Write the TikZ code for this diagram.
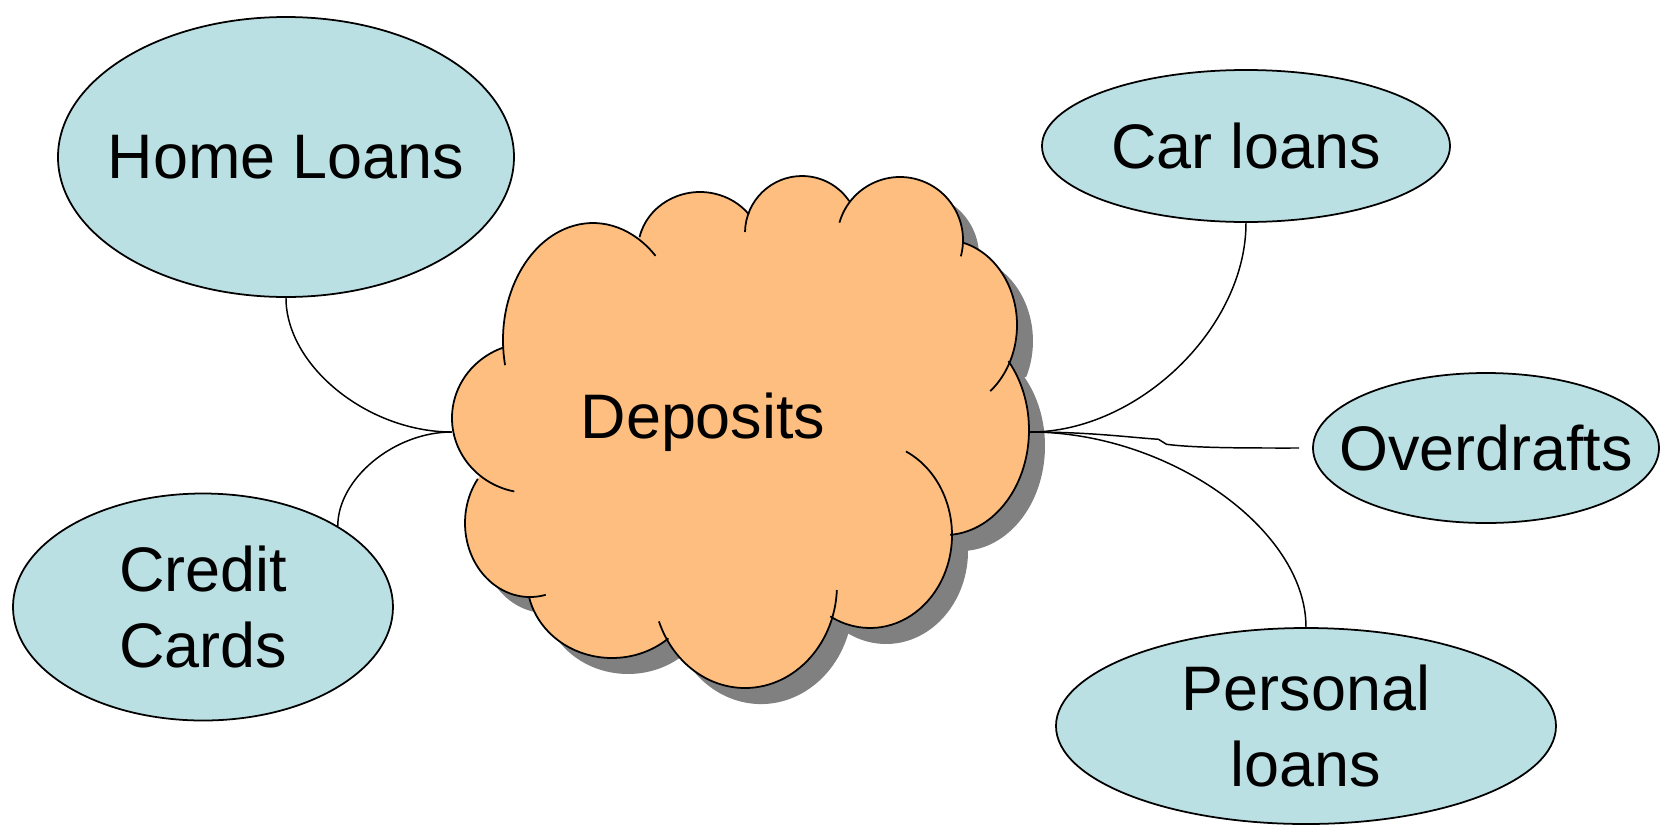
\documentclass[tikz,border=0pt]{standalone}
\usepackage{fontspec}
\setmainfont{Liberation Sans}
\usetikzlibrary{shapes.geometric,shadows,calc}

\definecolor{loanblue}{RGB}{187,224,227}
\definecolor{cloudorange}{RGB}{254,190,128}
\definecolor{shadowgray}{RGB}{128,128,128}

\begin{document}
\begin{tikzpicture}
    \tikzstyle{loan} = [ellipse,draw=black,fill=loanblue,line width=0.5pt,
    inner sep=0pt,align=center,font=\fontsize{17.9pt}{21.9pt}\selectfont];
    \tikzstyle{deptext} = [inner sep=0pt,xshift=-0.38cm,yshift=0.1cm,
    font=\fontsize{17.9pt}{21.9pt}\selectfont];
    \tikzstyle{cloudbody} = [fill=cloudorange,drop shadow={shadow xshift=0.16cm,
    shadow yshift=-0.16cm,fill=shadowgray,opacity=1}];
    \tikzstyle{puff} = [black,line width=0.5pt];
    \tikzstyle{link} = [black,line width=0.42pt];

    \useasboundingbox (-7.41,-3.93) rectangle (9.19,4.32);

    % cloud body, one elliptic arc per puff
    \fill[cloudbody] (-2.378,0.851) arc[start angle=183.4,end angle=60,x radius=0.9,y radius=1.17]
      -- (-1.015,1.948) arc[start angle=167.2,end angle=37.9,x radius=0.62,y radius=0.58]
      -- (0.069,2.170) arc[start angle=161.6,end angle=34,radius=0.57]
      -- (1.082,2.292) arc[start angle=143.8,end angle=-1.8,radius=0.63]
      -- (2.220,1.893) arc[start angle=75.5,end angle=-25,x radius=0.72,y radius=0.85]
      -- (2.674,0.709) arc[start angle=41,end angle=-86.5,x radius=0.84,y radius=1.05]
      -- (2.110,-1.009) arc[start angle=1.3,end angle=-119,x radius=0.82,y radius=0.93]
      -- (0.925,-1.811) arc[start angle=-15.8,end angle=-146.8,x radius=0.92,y radius=1.03]
      -- (-0.726,-2.063) arc[start angle=-48.4,end angle=-168,x radius=0.85,y radius=0.78]
      -- (-2.110,-1.650) arc[start angle=270,end angle=143.4,x radius=0.65,y radius=0.74]
      -- (-2.606,-0.439) arc[start angle=230.6,end angle=110,x radius=0.78,y radius=0.75]
      -- cycle;

    % puff outlines, some run on a little inside the cloud
    \draw[puff] (-1.48,0.92) ++(192.4:0.9 and 1.17) arc[start angle=192.4,end angle=46,x radius=0.9,y radius=1.17];
    \draw[puff] (-0.41,1.82) ++(167.2:0.62 and 0.58) arc[start angle=167.2,end angle=37.9,x radius=0.62,y radius=0.58];
    \draw[puff] (0.61,1.99) ++(179:0.57) arc[start angle=179,end angle=34,radius=0.57];
    \draw[puff] (1.59,1.92) ++(164:0.63) arc[start angle=164,end angle=-15,radius=0.63];
    \draw[puff] (2.04,1.07) ++(75.5:0.72 and 0.85) arc[start angle=75.5,end angle=-51,x radius=0.72,y radius=0.85];
    \draw[puff] (2.04,0.02) ++(41:0.84 and 1.05) arc[start angle=41,end angle=-86.5,x radius=0.84,y radius=1.05];
    \draw[puff] (1.29,-1.03) ++(64:0.82 and 0.93) arc[start angle=64,end angle=-119,x radius=0.82,y radius=0.93];
    \draw[puff] (0.04,-1.53) ++(-2.8:0.92 and 1.03) arc[start angle=-2.8,end angle=-159.3,x radius=0.92,y radius=1.03];
    \draw[puff] (-1.29,-1.48) ++(-48.4:0.85 and 0.78) arc[start angle=-48.4,end angle=-168,x radius=0.85,y radius=0.78];
    \draw[puff] (-2.11,-0.91) ++(284:0.65 and 0.74) arc[start angle=284,end angle=143.4,x radius=0.65,y radius=0.74];
    \draw[puff] (-2.11,0.14) ++(258.4:0.78 and 0.75) arc[start angle=258.4,end angle=110,x radius=0.78,y radius=0.75];

    \node[name=dep,minimum width=5.77cm,minimum height=5.12cm,inner sep=0pt,
    label={[deptext]center:Deposits}] at (0,0) {};

    \node[loan,name=home,left of=dep,node distance=4.55cm,yshift=2.75cm,
    minimum width=4.56cm,minimum height=2.8cm] {\makebox[0pt]{Home Loans}};
    \node[loan,name=cards,left of=dep,node distance=5.38cm,yshift=-1.75cm,
    minimum width=3.8cm,minimum height=2.27cm] {Credit\\Cards};
    \node[loan,name=car,right of=dep,node distance=5.05cm,yshift=2.86cm,
    minimum width=4.08cm,minimum height=1.52cm] {Car loans};
    \node[loan,name=overdraft,right of=dep,node distance=7.45cm,yshift=-0.16cm,
    minimum width=3.46cm,minimum height=1.5cm] {\makebox[0pt]{Overdrafts}};
    \node[loan,name=personal,right of=dep,node distance=5.65cm,yshift=-2.94cm,
    minimum width=5cm,minimum height=1.96cm] {Personal\\loans};

    \draw[link] (home.south) .. controls +(0,-0.68) and +(-0.84,0) .. (dep.west);
    \draw[link] (cards.31) .. controls +(0,0.47) and +(-0.58,0) .. (dep.west);
    \draw[link] (car.south) .. controls +(0,-1.05) and +(1.08,0) .. (dep.east);
    \draw[link] (dep.east) .. controls +(1.38,0) and +(0,0.98) .. (personal.north);

    \coordinate (kink) at ($(dep.east)!0.455!(overdraft.west)$);
    \draw[link,shorten >=0.13cm] (dep.east) .. controls +(0.6,0) and +(-0.3,0.02) .. (kink)
      -- ++(0.08,-0.05) .. controls +(0.3,-0.04) and +(-0.6,0) .. (overdraft.west);

\end{tikzpicture}
\end{document}
